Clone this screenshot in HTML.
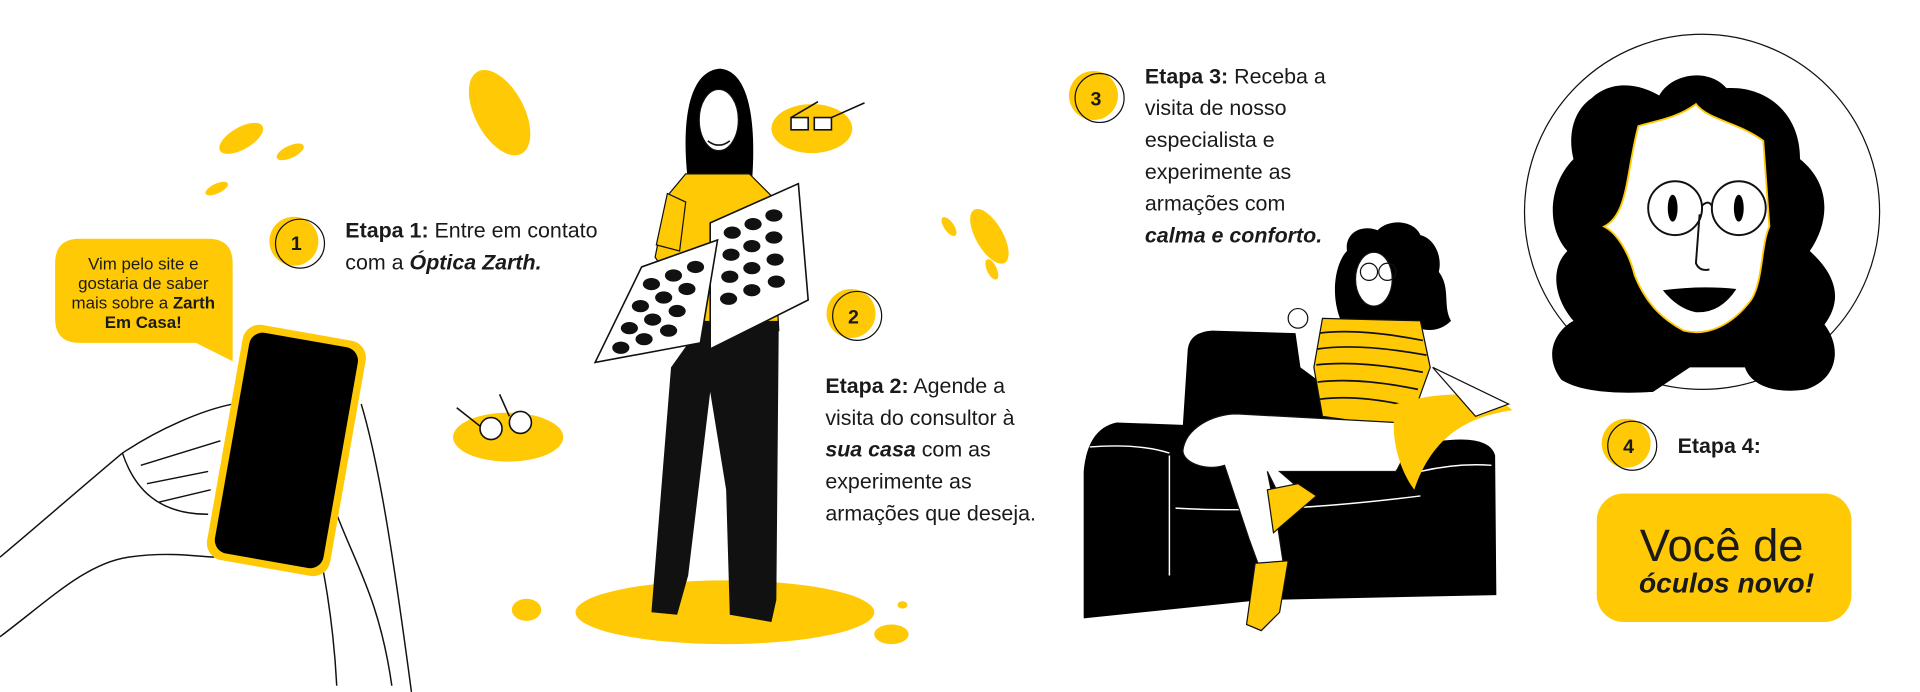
<!DOCTYPE html>
<html><head><meta charset="utf-8"><style>
html,body{margin:0;padding:0;background:#fff;width:1920px;height:692px;overflow:hidden}
svg{display:block}
text{font-family:"Liberation Sans",sans-serif;fill:#1a1a1a}
</style></head><body>
<svg width="1920" height="692" viewBox="0 0 1920 692" xmlns="http://www.w3.org/2000/svg">
<g transform="scale(1.2245)">
<!-- yellow blobs -->
<g fill="#ffc905">
<ellipse cx="408" cy="92" rx="20" ry="38" transform="rotate(-28 408 92)"/>
<ellipse cx="197" cy="113" rx="9" ry="20" transform="rotate(60 197 113)"/>
<ellipse cx="237" cy="124" rx="5" ry="12" transform="rotate(65 237 124)"/>
<ellipse cx="177" cy="154" rx="4" ry="10" transform="rotate(65 177 154)"/>
<ellipse cx="663" cy="105" rx="33" ry="20"/>
<ellipse cx="415" cy="357" rx="45" ry="20"/>
<ellipse cx="808" cy="193" rx="11" ry="25" transform="rotate(-30 808 193)"/>
<ellipse cx="775" cy="185" rx="4" ry="9" transform="rotate(-35 775 185)"/>
<ellipse cx="810" cy="220" rx="4" ry="9" transform="rotate(-25 810 220)"/>
<ellipse cx="592" cy="500" rx="122" ry="26"/>
<ellipse cx="430" cy="498" rx="12" ry="9"/>
<ellipse cx="737" cy="494" rx="4" ry="3"/>
<ellipse cx="728" cy="518" rx="14" ry="8"/>
</g>
<!-- glasses -->
<g fill="#fff" stroke="#111" stroke-width="1.3">
<rect x="646" y="96" width="14" height="10"/><rect x="665" y="96" width="14" height="10"/>
<path d="M646 96 L668 83 M679 96 L706 84" fill="none"/>
<circle cx="401" cy="350" r="9"/><circle cx="425" cy="345" r="9"/>
<path d="M392 348 L373 333 M416 340 L408 322" fill="none"/>
</g>
<!-- speech bubble -->
<path d="M65 195 H170 Q190 195 190 215 V295 L160 280 H65 Q45 280 45 260 V215 Q45 195 65 195 Z" fill="#ffc905"/>
<g font-size="13.8" text-anchor="middle">
<text x="117" y="220">Vim pelo site e</text>
<text x="117" y="236">gostaria de saber</text>
<text x="117" y="252">mais sobre a <tspan font-weight="bold">Zarth</tspan></text>
<text x="117" y="268" font-weight="bold">Em Casa!</text>
</g>
<!-- hand lines -->
<g fill="none" stroke="#111" stroke-width="1.2">
<path d="M0 455 C30 430 70 395 100 370 C130 350 165 335 190 330"/>
<path d="M0 520 C40 490 70 460 105 455 C140 450 165 455 175 455"/>
<path d="M100 370 C110 400 130 420 170 420"/>
<path d="M120 395 L170 385 M130 410 L172 400 M115 380 L180 360"/>
<path d="M240 395 C260 392 270 400 275 420 C290 460 310 490 320 560"/>
<path d="M255 420 C245 430 235 430 235 410 C232 395 242 393 248 400"/>
<path d="M275 560 C272 500 262 455 255 420"/>
<path d="M295 330 C310 380 322 460 336 565"/>
</g>
<!-- phone -->
<g transform="rotate(10 232 367)">
<rect x="183" y="270" width="102" height="195" rx="14" fill="#ffc905"/>
<rect x="189" y="276" width="90" height="183" rx="11" fill="#000"/>
</g>
<!-- step circles -->
<g>
<circle cx="240" cy="197" r="20" fill="#ffc905"/><circle cx="245" cy="199" r="20" fill="none" stroke="#111" stroke-width="1"/>
<text x="242" y="204" font-size="16" font-weight="bold" text-anchor="middle">1</text>
<circle cx="695" cy="256" r="20" fill="#ffc905"/><circle cx="700" cy="258" r="20" fill="none" stroke="#111" stroke-width="1"/>
<text x="697" y="264" font-size="16" font-weight="bold" text-anchor="middle">2</text>
<circle cx="893" cy="78" r="20" fill="#ffc905"/><circle cx="898" cy="80" r="20" fill="none" stroke="#111" stroke-width="1"/>
<text x="895" y="86" font-size="16" font-weight="bold" text-anchor="middle">3</text>
<circle cx="1328" cy="362" r="20" fill="#ffc905"/><circle cx="1333" cy="364" r="20" fill="none" stroke="#111" stroke-width="1"/>
<text x="1330" y="370" font-size="16" font-weight="bold" text-anchor="middle">4</text>
</g>
<!-- texts -->
<g font-size="17.5">
<text x="282" y="194"><tspan font-weight="bold">Etapa 1:</tspan> Entre em contato</text>
<text x="282" y="220">com a <tspan font-weight="bold" font-style="italic">Óptica Zarth.</tspan></text>
<text x="674" y="321"><tspan font-weight="bold">Etapa 2:</tspan> Agende a</text>
<text x="674" y="347">visita do consultor à</text>
<text x="674" y="373"><tspan font-weight="bold" font-style="italic">sua casa</tspan> com as</text>
<text x="674" y="399">experimente as</text>
<text x="674" y="425">armações que deseja.</text>
<text x="935" y="68"><tspan font-weight="bold">Etapa 3:</tspan> Receba a</text>
<text x="935" y="94">visita de nosso</text>
<text x="935" y="120">especialista e</text>
<text x="935" y="146">experimente as</text>
<text x="935" y="172">armações com</text>
<text x="935" y="198" font-weight="bold" font-style="italic">calma e conforto.</text>
<text x="1370" y="370" font-weight="bold">Etapa 4:</text>
</g>
<!-- final box -->
<rect x="1304" y="403" width="208" height="105" rx="22" fill="#ffc905"/>
<text x="1406" y="458" font-size="37" text-anchor="middle">Você de</text>
<text x="1410" y="484" font-size="23" font-weight="bold" font-style="italic" text-anchor="middle">óculos novo!</text>

<!-- woman 2 -->
<path d="M562 150 C556 100 562 58 588 56 C612 58 618 100 614 150 Z" fill="#000"/>
<ellipse cx="587" cy="98" rx="16" ry="25" fill="#fff" stroke="#111"/>
<path d="M578 115 Q587 122 596 115" fill="none" stroke="#111" stroke-width="1.3"/>
<path d="M560 142 L612 142 L630 160 L636 270 L570 278 L545 225 L535 210 L545 160 Z" fill="#ffc905" stroke="#111" stroke-width="1"/>
<path d="M545 158 L536 200 L555 205 L560 165 Z" fill="#ffc905" stroke="#111"/>
<path d="M548 300 L575 262 L636 262 L634 490 L630 508 L596 502 L593 400 L580 320 L562 470 L553 502 L532 500 L540 400 Z" fill="#111"/>
<polygon points="580,182 652,150 660,245 580,285" fill="#fff" stroke="#111" stroke-width="1.3"/>
<polygon points="486,296 524,218 586,196 572,280" fill="#fff" stroke="#111" stroke-width="1.3"/>
<g fill="#111">
<ellipse cx="598" cy="190" rx="7" ry="5"/><ellipse cx="615" cy="183" rx="7" ry="5"/><ellipse cx="632" cy="176" rx="7" ry="5"/>
<ellipse cx="597" cy="208" rx="7" ry="5"/><ellipse cx="614" cy="201" rx="7" ry="5"/><ellipse cx="632" cy="194" rx="7" ry="5"/>
<ellipse cx="596" cy="226" rx="7" ry="5"/><ellipse cx="614" cy="219" rx="7" ry="5"/><ellipse cx="633" cy="212" rx="7" ry="5"/>
<ellipse cx="595" cy="244" rx="7" ry="5"/><ellipse cx="614" cy="237" rx="7" ry="5"/><ellipse cx="634" cy="230" rx="7" ry="5"/>
<ellipse cx="532" cy="232" rx="7" ry="5"/><ellipse cx="550" cy="225" rx="7" ry="5"/><ellipse cx="568" cy="218" rx="7" ry="5"/>
<ellipse cx="523" cy="250" rx="7" ry="5"/><ellipse cx="542" cy="243" rx="7" ry="5"/><ellipse cx="561" cy="236" rx="7" ry="5"/>
<ellipse cx="514" cy="268" rx="7" ry="5"/><ellipse cx="533" cy="261" rx="7" ry="5"/><ellipse cx="553" cy="254" rx="7" ry="5"/>
<ellipse cx="507" cy="284" rx="7" ry="5"/><ellipse cx="526" cy="277" rx="7" ry="5"/><ellipse cx="546" cy="270" rx="7" ry="5"/>
</g>

<!-- sofa -->
<path d="M885 505 L885 385 Q888 350 912 345 L966 347 L970 285 Q972 271 990 270 L1058 272 L1062 300 L1150 365 Q1215 350 1221 372 L1222 486 L1030 490 Z" fill="#000"/>
<g fill="none" stroke="#fff" stroke-width="1.2">
<path d="M890 365 Q930 362 955 370"/><path d="M955 372 L955 470"/><path d="M960 415 Q1040 420 1160 405"/><path d="M1160 385 Q1190 378 1218 380"/>
</g>
<!-- woman 3 -->
<path d="M1098 268 C1085 245 1090 215 1100 205 C1098 190 1112 183 1125 188 C1135 178 1155 180 1160 192 C1172 195 1178 210 1175 222 C1185 235 1178 250 1185 262 C1175 272 1160 272 1150 262 L1115 262 Z" fill="#000"/>
<ellipse cx="1122" cy="228" rx="15" ry="22" fill="#fff" stroke="#111"/>
<circle cx="1118" cy="222" r="7" fill="none" stroke="#111"/><circle cx="1133" cy="222" r="7" fill="none" stroke="#111"/>
<path d="M1080 260 L1160 262 L1168 300 L1150 350 L1080 340 L1073 300 Z" fill="#ffc905" stroke="#111"/>
<g stroke="#111" stroke-width="1.4" fill="none">
<path d="M1078 272 Q1110 268 1162 278"/><path d="M1076 285 Q1110 280 1165 290"/><path d="M1075 298 Q1110 294 1162 304"/><path d="M1076 312 Q1110 308 1158 318"/><path d="M1078 326 Q1110 322 1152 332"/>
</g>
<path d="M1140 345 L1010 338 C990 338 968 350 966 368 C966 378 985 385 1000 380 L1020 440 L1028 462 L1048 460 L1042 420 L1035 385 L1045 405 L1060 398 L1045 385 L1140 385 C1150 370 1148 355 1140 345 Z" fill="#fff" stroke="#111"/>
<path d="M1140 330 C1180 318 1220 320 1235 335 C1200 340 1170 355 1155 400 C1140 380 1135 350 1140 330 Z" fill="#ffc905"/>
<path d="M1170 300 L1232 330 L1205 340 Z" fill="#fff" stroke="#111"/>
<path d="M1035 400 L1060 395 L1075 405 L1040 435 Z" fill="#ffc905" stroke="#111"/>
<path d="M1025 460 L1052 458 L1045 500 L1030 515 L1018 510 Z" fill="#ffc905" stroke="#111"/>
<circle cx="1060" cy="260" r="8" fill="#fff" stroke="#111"/>

<!-- big face -->
<circle cx="1390" cy="173" r="145" fill="#fff" stroke="#111" stroke-width="1"/>
<path d="M1300 80 C1320 62 1345 72 1355 78 C1365 60 1395 55 1410 72 C1440 70 1470 90 1470 130 C1495 150 1495 180 1478 205 C1500 225 1505 245 1490 265 C1505 285 1500 310 1475 318 C1450 322 1430 315 1425 300 L1400 300 L1380 300 L1350 320 C1320 322 1290 320 1275 310 C1260 290 1270 270 1285 262 C1270 245 1265 220 1280 205 C1262 185 1265 150 1285 130 C1280 110 1285 90 1300 80 Z" fill="#000"/>
<path d="M1338 103 C1355 98 1370 96 1385 85 C1395 98 1420 100 1440 115 L1445 185 C1438 200 1440 230 1430 245 C1415 265 1395 275 1375 270 C1360 262 1345 250 1335 225 C1330 205 1320 190 1310 185 C1330 175 1328 140 1338 103 Z" fill="#fff" stroke="#ffc905" stroke-width="1.5"/>
<g fill="none" stroke="#111" stroke-width="1.6">
<circle cx="1368" cy="170" r="22"/><circle cx="1420" cy="170" r="22"/><path d="M1390 168 Q1395 163 1398 168"/>
<path d="M1388 175 L1385 215 Q1388 222 1396 220"/>
</g>
<ellipse cx="1366" cy="170" rx="4" ry="11" fill="#000"/><ellipse cx="1420" cy="170" rx="4" ry="11" fill="#000"/>
<path d="M1358 237 Q1390 233 1418 236 Q1405 256 1385 255 Q1370 252 1358 237 Z" fill="#000"/>
</g>
</svg>
</body></html>
